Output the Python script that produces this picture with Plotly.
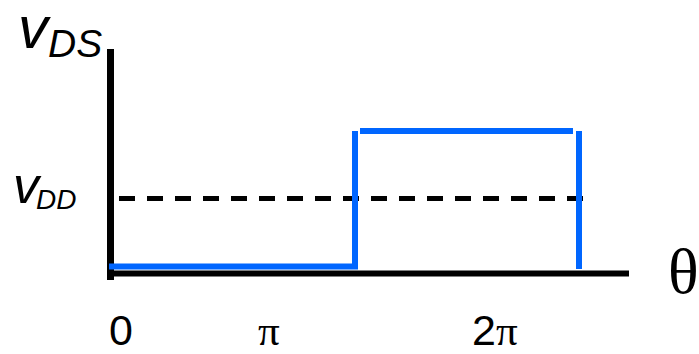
import plotly.graph_objects as go

# Drain-source voltage waveform of a switching stage, plotted against phase angle.
# Horizontal unit: one pixel-sized step of phase; vertical unit: one pixel-sized step of voltage.
LOW_LEVEL = 7.0          # conducting-state voltage
HIGH_LEVEL = 142.5       # off-state voltage
VDD_LEVEL = 75.0         # supply voltage reference
THETA_START = -1.5
THETA_RISE = 244.5       # switch turns off
THETA_HIGH_START = 249.5
THETA_HIGH_END = 462.5
THETA_FALL = 468.5       # switch turns on again
FALL_BOTTOM = 4.5
VDD_START, VDD_END = 8.5, 472.5

X_AXIS_SPAN = [-3.5, 518.5]
Y_AXIS_SPAN = [-6.5, 224.5]

TICK_TEXT = ["0", "π", "2π"]
TICK_POS = [10.0, 158.0, 384.5]

BLUE = "#0066ff"
SANS = "Liberation Sans, Arial, sans-serif"
SERIF = "Liberation Serif, Times New Roman, serif"

fig = go.Figure()

# axes drawn as heavy black strokes
fig.add_trace(go.Scatter(x=X_AXIS_SPAN, y=[0, 0], mode="lines",
                         line=dict(color="black", width=6), hoverinfo="skip"))
fig.add_trace(go.Scatter(x=[0, 0], y=Y_AXIS_SPAN, mode="lines",
                         line=dict(color="black", width=7), hoverinfo="skip"))

# supply-voltage reference
fig.add_trace(go.Scatter(x=[VDD_START, VDD_END], y=[VDD_LEVEL, VDD_LEVEL], mode="lines",
                         line=dict(color="black", width=5, dash="16px,12px"), hoverinfo="skip"))

# waveform: low interval then the rising edge
fig.add_trace(go.Scatter(x=[THETA_START, THETA_RISE, THETA_RISE],
                         y=[LOW_LEVEL, LOW_LEVEL, HIGH_LEVEL], mode="lines",
                         line=dict(color=BLUE, width=6, shape="linear"), hoverinfo="skip"))
# high interval
fig.add_trace(go.Scatter(x=[THETA_HIGH_START, THETA_HIGH_END], y=[HIGH_LEVEL, HIGH_LEVEL],
                         mode="lines", line=dict(color=BLUE, width=6), hoverinfo="skip"))
# falling edge
fig.add_trace(go.Scatter(x=[THETA_FALL, THETA_FALL], y=[HIGH_LEVEL, FALL_BOTTOM],
                         mode="lines", line=dict(color=BLUE, width=6), hoverinfo="skip"))

def px_x(p):
    return p - 110.5

def px_y(p):
    return 273.5 - p

annotations = [
    dict(text="<i>v</i>", x=px_x(16), y=px_y(27), xanchor="left", yanchor="middle",
         font=dict(family=SANS, size=60, color="black")),
    dict(text="<i>DS</i>", x=px_x(46), y=px_y(43), xanchor="left", yanchor="middle",
         font=dict(family=SANS, size=39, color="black")),
    dict(text="<i>v</i>", x=px_x(11), y=px_y(185), xanchor="left", yanchor="middle",
         font=dict(family=SANS, size=52, color="black")),
    dict(text="<i>DD</i>", x=px_x(34), y=px_y(199), xanchor="left", yanchor="middle",
         font=dict(family=SANS, size=28, color="black")),
    dict(text="θ", x=px_x(683), y=px_y(271), xanchor="center", yanchor="middle",
         font=dict(family=SERIF, size=64, color="black")),
]

for label, pos in zip(TICK_TEXT, TICK_POS):
    if label == "0":
        txt = label
    elif label == "π":
        txt = f"<span style='font-family:{SERIF}'>π</span>"
    else:
        txt = f"2<span style='font-family:{SERIF}'>π</span>"
    annotations.append(dict(text=txt, x=pos, y=px_y(330), xanchor="center", yanchor="middle",
                            font=dict(family=SANS, size=43, color="black")))

for a in annotations:
    a.update(xref="x", yref="y", showarrow=False)

fig.update_layout(
    width=699, height=354,
    margin=dict(l=0, r=0, t=0, b=0),
    paper_bgcolor="white", plot_bgcolor="white",
    showlegend=False,
    xaxis=dict(range=[px_x(0), px_x(699)], visible=False, fixedrange=True),
    yaxis=dict(range=[px_y(354), px_y(0)], visible=False, fixedrange=True),
    annotations=annotations,
)

fig.write_html("out.html")
